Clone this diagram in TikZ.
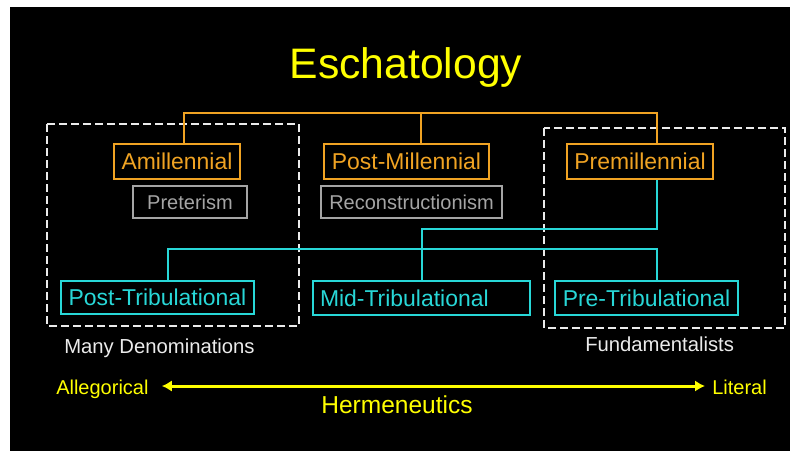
\documentclass[tikz,border=0pt]{standalone}
\usepackage{fontspec}
\setmainfont{Liberation Sans}
\usetikzlibrary{calc,arrows.meta}
\definecolor{eschorange}{RGB}{240,163,35}
\definecolor{eschcyan}{RGB}{40,215,215}
\definecolor{eschyellow}{RGB}{255,255,0}
\definecolor{eschgray}{RGB}{165,165,165}
\definecolor{eschwhite}{RGB}{235,235,235}
\tikzset{
	orangebox/.style={draw=eschorange, text=eschorange, line width=1.5pt, inner sep=0pt,
		minimum height=26.25pt, font=\fontsize{17.2pt}{20pt}\selectfont},
	graybox/.style={draw=eschgray, text=eschgray, line width=1.5pt, inner sep=0pt,
		minimum height=24pt, font=\fontsize{15pt}{18pt}\selectfont},
	cyanbox/.style={draw=eschcyan, text=eschcyan, line width=1.5pt, inner sep=0pt,
		minimum height=25pt, font=\fontsize{17.2pt}{20pt}\selectfont},
	orangeline/.style={draw=eschorange, line width=1.5pt},
	cyanline/.style={draw=eschcyan, line width=1.5pt},
	groupbox/.style={draw=eschwhite, line width=1.5pt, dash pattern=on 6pt off 3pt},
	sidelabel/.style={text=eschwhite, inner sep=0pt, font=\fontsize{15.2pt}{18pt}\selectfont},
	scalelabel/.style={text=eschyellow, inner sep=0pt, font=\fontsize{15pt}{18pt}\selectfont}
}
\begin{document}
\begin{tikzpicture}[x=0.75pt, y=-0.75pt]
		%%%%% START %%%%%
		
		\useasboundingbox[fill=white] (0, 0) rectangle (790, 451);
		\fill[black] (10, 7) rectangle (790, 451);
		
		\node[anchor=base, text=eschyellow, inner sep=0pt, font=\fontsize{32pt}{36pt}\selectfont] (title) at (406, 78) {Eschatology};
		
		% group frames
		\draw[groupbox] (47, 124) rectangle (299, 326);
		\draw[groupbox] (544, 128) rectangle (785, 328);
		
		% millennial views
		\node[orangebox, minimum width=94.5pt] (amil) at (177, 161.5) {Amillennial};
		\node[orangebox, minimum width=123.75pt] (postm) at (406.5, 161.5) {Post-Millennial};
		\node[orangebox, minimum width=109.5pt] (prem) at (640, 161.5) {Premillennial};
		
		\node[graybox, minimum width=85.5pt] (pret) at (190, 202) {Preterism};
		\node[graybox, minimum width=135.75pt] (recon) at (411.5, 202) {Reconstructionism};
		
		% tribulation views
		\node[cyanbox, minimum width=144.75pt] (posttrib) at (157.5, 297.5) {Post-Tribulational};
		\node[cyanbox, text width=152.25pt, inner xsep=5.25pt, align=left] (midtrib) at (421.5, 298) {Mid-Tribulational};
		\node[cyanbox, minimum width=137.25pt] (pretrib) at (646.5, 298) {Pre-Tribulational};
		
		% connectors
		\coordinate (hub) at (421, 113);
		\draw[orangeline] ($(amil.north)+(7, 0)$) |- (hub) -| ($(prem.north)+(17, 0)$);
		\draw[orangeline] (hub) -- (hub |- postm.north);
		
		\coordinate (split) at (422, 229);
		\draw[cyanline] ($(prem.south)+(17, 0)$) |- (split) -- (split |- midtrib.north);
		\draw[cyanline] ($(posttrib.north)+(10.5, 0)$) -- ++(0, -31) -| ($(pretrib.north)+(10.5, 0)$);
		
		% labels under the frames
		\node[sidelabel, anchor=base west] (many) at (64, 353) {Many Denominations};
		\node[sidelabel, anchor=base west] (fund) at (585, 351) {Fundamentalists};
		
		% hermeneutics scale
		\node[scalelabel, anchor=base west] (alleg) at (56, 394) {Allegorical};
		\node[scalelabel, anchor=base west] (literal) at (712, 394) {Literal};
		\coordinate (scale) at (397, 386);
		\draw[draw=eschyellow, line width=2.25pt, {Latex[length=7.5pt,width=8.5pt]}-{Latex[length=7.5pt,width=8.5pt]}]
			($(alleg.east |- scale)+(13, 0)$) -- ($(literal.west |- scale)+(-7, 0)$);
		\node[anchor=base, text=eschyellow, inner sep=0pt, font=\fontsize{18.4pt}{22pt}\selectfont] (herm) at (397, 413) {Hermeneutics};
		
		%%%%% END %%%%%
	\end{tikzpicture}
\end{document}
